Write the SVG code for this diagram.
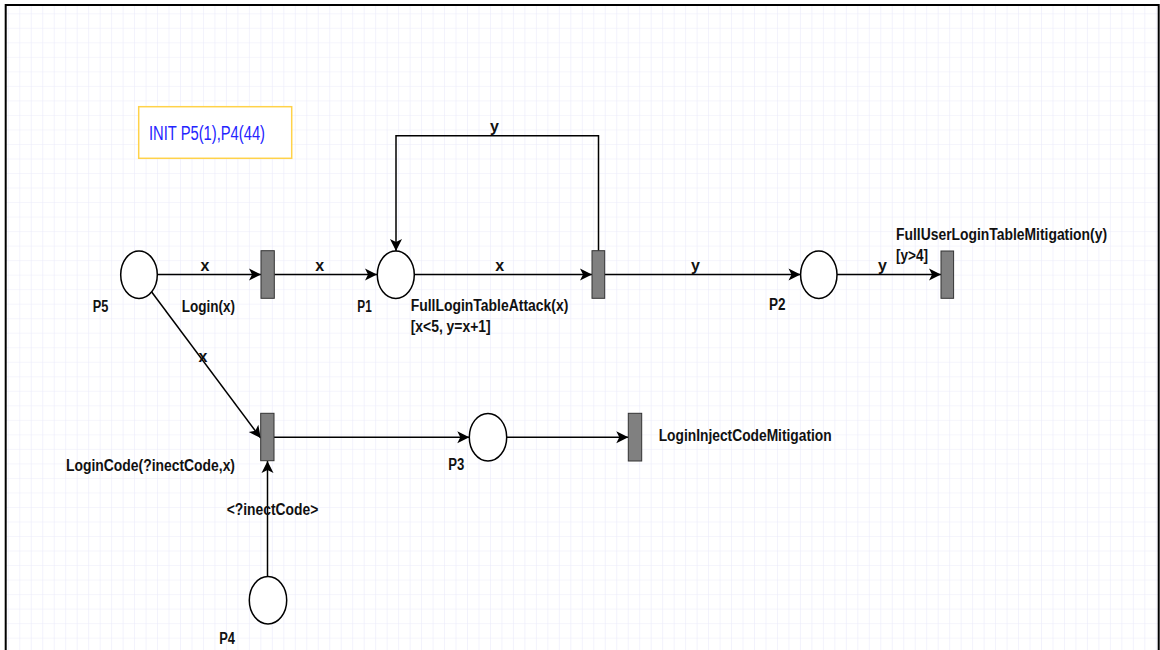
<svg xmlns="http://www.w3.org/2000/svg" width="1160" height="650" viewBox="0 0 1160 650">
<style>
  .place { fill: #ffffff; stroke: #000000; stroke-width: 1.5; }
  .trans { fill: #808080; stroke: #333333; stroke-width: 1; }
  .lbl { font-family: "Liberation Sans", Arial, sans-serif; font-size: 16px; font-weight: bold; fill: #111111; }
  .arc { fill: none; stroke: #000000; stroke-width: 1.5; marker-end: url(#arr); }
  .init { font-family: "Liberation Sans", Arial, sans-serif; font-size: 20px; fill: #2424ff; }
</style>
<defs>
  <pattern id="grid" patternUnits="userSpaceOnUse" x="19.3" y="13.3" width="11.48" height="14.52">
    <path d="M0,0 V14.52 M0,0 H11.48" fill="none" stroke="#ebebfa" stroke-width="1.2"/>
  </pattern>
  <marker id="arr" markerUnits="userSpaceOnUse" markerWidth="14" markerHeight="14" refX="13" refY="7" orient="auto">
    <path d="M1,1 L13,7 L1,13 L4,7 Z" fill="#000000"/>
  </marker>
</defs>
<rect x="0" y="0" width="1160" height="650" fill="#ffffff"/>
<rect x="5.7" y="5" width="1153" height="700" fill="url(#grid)" stroke="#000000" stroke-width="2"/>

<g id="init">
  <rect x="138.7" y="106.7" width="153" height="51.6" fill="#ffffff" stroke="#ffd24a" stroke-width="1.5"/>
  <text class="init" x="149" y="140" textLength="116" lengthAdjust="spacingAndGlyphs">INIT P5(1),P4(44)</text>
</g>

<g id="connectors">
  <path class="arc" d="M157.3,274.5 H261"/>
  <path class="arc" d="M274.3,274.5 H377"/>
  <path class="arc" d="M414.3,274.5 H592"/>
  <path class="arc" d="M598.5,250.7 V135.7 H396 V251"/>
  <path class="arc" d="M604.7,274.5 H800.5"/>
  <path class="arc" d="M837,274.5 H941"/>
  <path class="arc" d="M151.7,292 L260.7,438"/>
  <path class="arc" d="M274,437.3 H469.3"/>
  <path class="arc" d="M506.7,437.3 H628.3"/>
  <path class="arc" d="M267.5,576.7 V461"/>
  <text class="lbl" x="205" y="271" text-anchor="middle">x</text>
  <text class="lbl" x="319.7" y="271" text-anchor="middle">x</text>
  <text class="lbl" x="499.7" y="271" text-anchor="middle">x</text>
  <text class="lbl" x="494.5" y="132" text-anchor="middle">y</text>
  <text class="lbl" x="695.5" y="271" text-anchor="middle">y</text>
  <text class="lbl" x="882.5" y="271" text-anchor="middle">y</text>
  <text class="lbl" x="203" y="362" text-anchor="middle">x</text>
  <text class="lbl" x="226.7" y="515" textLength="91.6" lengthAdjust="spacingAndGlyphs">&lt;?inectCode&gt;</text>
</g>

<g id="P5">
  <ellipse class="place" cx="139" cy="274.7" rx="18.3" ry="23.7"/>
  <text class="lbl" x="92.7" y="311.7" textLength="15.6" lengthAdjust="spacingAndGlyphs">P5</text>
</g>
<g id="Login">
  <rect class="trans" x="261" y="250.7" width="13.3" height="47.6"/>
  <text class="lbl" x="181.7" y="311.7" textLength="53.3" lengthAdjust="spacingAndGlyphs">Login(x)</text>
</g>
<g id="P1">
  <ellipse class="place" cx="395.8" cy="274.7" rx="18.5" ry="23.7"/>
  <text class="lbl" x="357.3" y="311.7" textLength="14.4" lengthAdjust="spacingAndGlyphs">P1</text>
</g>
<g id="FullLoginTableAttack">
  <rect class="trans" x="592" y="250.7" width="12.7" height="47.6"/>
  <text class="lbl" x="410.7" y="310.7" textLength="157.6" lengthAdjust="spacingAndGlyphs">FullLoginTableAttack(x)</text>
  <text class="lbl" x="410.7" y="331.7" textLength="80" lengthAdjust="spacingAndGlyphs">[x&lt;5, y=x+1]</text>
</g>
<g id="P2">
  <ellipse class="place" cx="818.8" cy="274.7" rx="18.2" ry="23.7"/>
  <text class="lbl" x="769" y="310" textLength="16.5" lengthAdjust="spacingAndGlyphs">P2</text>
</g>
<g id="FullUserLoginTableMitigation">
  <rect class="trans" x="941" y="251" width="12.6" height="47.3"/>
  <text class="lbl" x="896" y="240" textLength="211" lengthAdjust="spacingAndGlyphs">FullUserLoginTableMitigation(y)</text>
  <text class="lbl" x="896" y="261" textLength="32" lengthAdjust="spacingAndGlyphs">[y&gt;4]</text>
</g>
<g id="LoginCode">
  <rect class="trans" x="260.7" y="413.3" width="13.3" height="47.4"/>
  <text class="lbl" x="66" y="470.7" textLength="169" lengthAdjust="spacingAndGlyphs">LoginCode(?inectCode,x)</text>
</g>
<g id="P3">
  <ellipse class="place" cx="488" cy="437.2" rx="18.7" ry="23.8"/>
  <text class="lbl" x="448.3" y="470" textLength="16" lengthAdjust="spacingAndGlyphs">P3</text>
</g>
<g id="LoginInjectCodeMitigation">
  <rect class="trans" x="628.3" y="413.3" width="13.4" height="47.7"/>
  <text class="lbl" x="658.7" y="440.7" textLength="173" lengthAdjust="spacingAndGlyphs">LoginInjectCodeMitigation</text>
</g>
<g id="P4">
  <ellipse class="place" cx="268" cy="600.3" rx="18.7" ry="23.7"/>
  <text class="lbl" x="219.3" y="644.3" textLength="15.7" lengthAdjust="spacingAndGlyphs">P4</text>
</g>
</svg>
